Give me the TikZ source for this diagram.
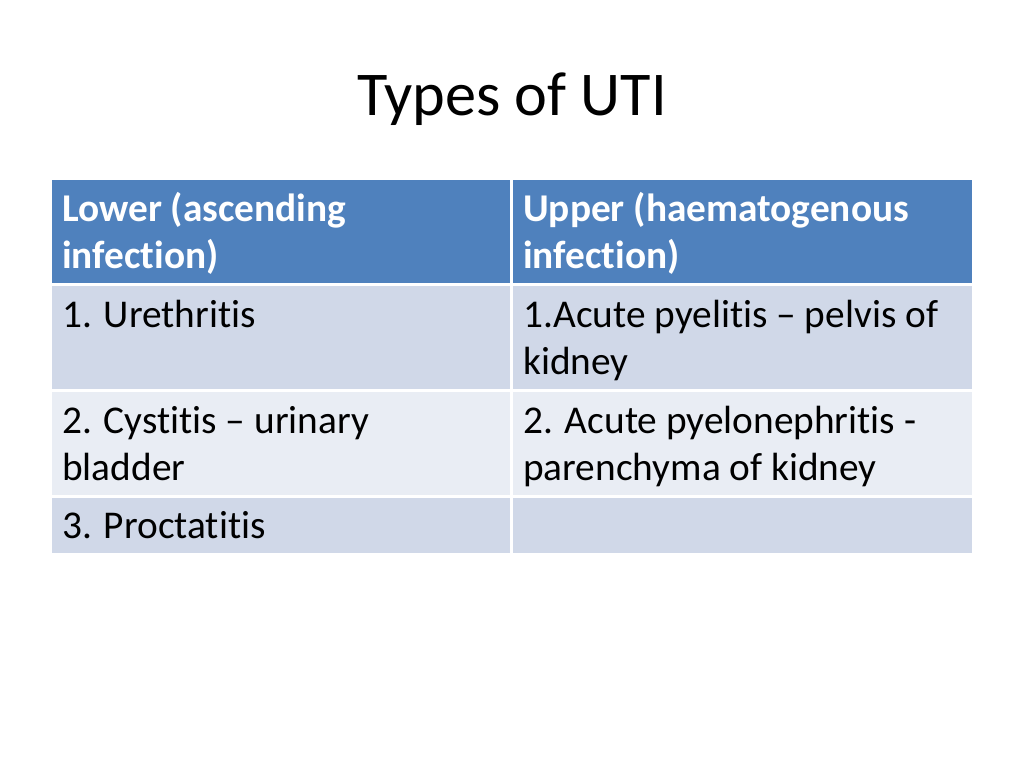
\documentclass[tikz,border=0pt]{standalone}
\usepackage{fontspec}
\setmainfont[Ligatures={NoCommon}]{Carlito}
\definecolor{hdr}{HTML}{4F81BD}
\definecolor{rowa}{HTML}{D0D8E8}
\definecolor{rowb}{HTML}{E9EDF4}
\begin{document}
\begin{tikzpicture}[x=0.75pt,y=-0.75pt,
  cell/.style={anchor=base west,inner sep=0pt,font=\fontsize{29.5}{34}\selectfont},
  hcell/.style={cell,text=white,font=\fontsize{29.5}{34}\selectfont\bfseries}]
\useasboundingbox[fill=white] (0,0) rectangle (1024,768);
\node[anchor=base,inner sep=0pt,font=\fontsize{46.7}{52}\selectfont] (title) at (512,115) {Types of UTI};
\fill[hdr] (52,180) rectangle (510,283);
\fill[hdr] (513,180) rectangle (972,283);
\fill[rowa] (52,286) rectangle (510,389);
\fill[rowa] (513,286) rectangle (972,389);
\fill[rowb] (52,392) rectangle (510,495);
\fill[rowb] (513,392) rectangle (972,495);
\fill[rowa] (52,498) rectangle (510,553);
\fill[rowa] (513,498) rectangle (972,553);
\node[hcell] (h1a) at (62,221) {Lower (ascending};
\node[hcell] (h1b) at (62,268) {infection)};
\node[hcell] (h2a) at (523,221) {Upper (haematogenous};
\node[hcell] (h2b) at (523,268) {infection)};
\node[cell] (r1a) at (62,327) {1. Urethritis};
\node[cell] (r1b) at (523,327) {1.Acute pyelitis – pelvis of};
\node[cell] (r1c) at (523,374) {kidney};
\node[cell] (r2a) at (62,433) {2. Cystitis – urinary};
\node[cell] (r2b) at (62,480) {bladder};
\node[cell] (r2c) at (523,433) {2. Acute pyelonephritis -};
\node[cell] (r2d) at (523,480) {parenchyma of kidney};
\node[cell] (r3a) at (62,538) {3. Proctatitis};
\end{tikzpicture}
\end{document}
